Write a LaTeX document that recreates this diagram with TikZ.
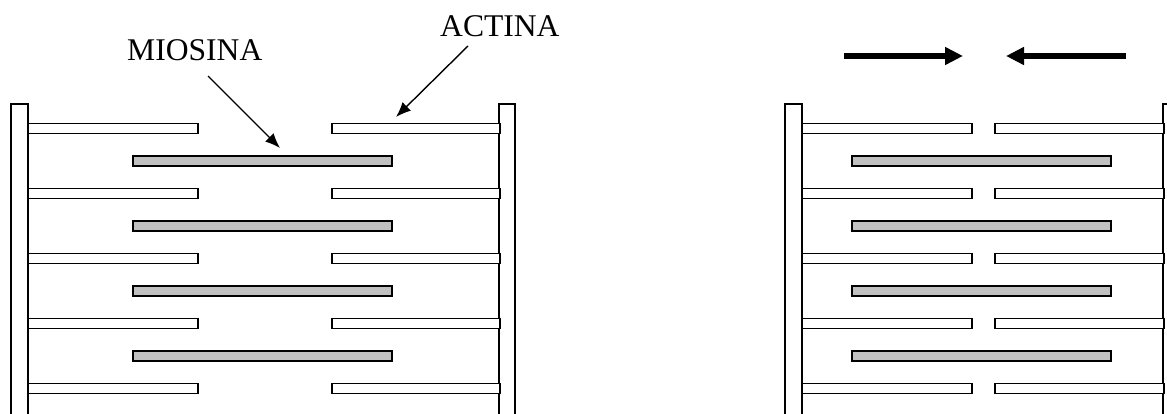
\documentclass[tikz,border=0pt]{standalone}
\usepackage{fontspec}
\setmainfont{Liberation Serif}
\usetikzlibrary{arrows.meta}
\definecolor{myogray}{HTML}{C0C0C0}
\tikzset{
  zline/.style={draw,fill=white,line width=1.1pt},
  actin/.style={draw,fill=white,line width=1.1pt},
  myosin/.style={draw,fill=myogray,line width=1.1pt},
  tag/.style={font=\fontsize{31.6}{38}\selectfont,inner sep=0pt},
  pointer/.style={line width=1.4pt,-{Latex[length=15pt,width=12pt]}},
  push/.style={line width=6pt,-{Triangle[length=18pt,width=17pt]}}
}
\begin{document}
\begin{tikzpicture}[x=1pt,y=-1pt]
\useasboundingbox (0,0) rectangle (1167,414);
\clip (0,0) rectangle (1167,414);
% relaxed sarcomere
\draw[zline] (11,104) rectangle (28,420);
\draw[zline] (499,104) rectangle (515,420);
\foreach \y in {128.5,193.5,258.5,323.5,388.5} {
  \draw[actin] (28,\y-4.75) rectangle (198,\y+4.75);
  \draw[actin] (332,\y-4.75) rectangle (500,\y+4.75);
}
\foreach \y in {161,226,291,356}
  \draw[myosin] (133,\y-5) rectangle (392,\y+5);
\node[tag,anchor=base west] (miosina) at (127,61) {MIOSINA};
\node[tag,anchor=base west] (actina) at (440,37) {ACTINA};
\coordinate (miofrom) at (208,76);
\coordinate (miotip) at (280,148);
\coordinate (actfrom) at (468,46);
\coordinate (acttip) at (396,117);
\draw[pointer] (miofrom) -- (miotip);
\draw[pointer] (actfrom) -- (acttip);
% contracted sarcomere
\draw[zline] (785,104) rectangle (802,420);
\draw[zline] (1163,104) rectangle (1180,420);
\foreach \y in {128.5,193.5,258.5,323.5,388.5} {
  \draw[actin] (802,\y-4.75) rectangle (972,\y+4.75);
  \draw[actin] (995,\y-4.75) rectangle (1164,\y+4.75);
}
\foreach \y in {161,226,291,356}
  \draw[myosin] (852,\y-5) rectangle (1111,\y+5);
\coordinate (pushl) at (844,56);
\coordinate (pushlend) at (963,56);
\coordinate (pushr) at (1126,56);
\coordinate (pushrend) at (1006,56);
\draw[push] (pushl) -- (pushlend);
\draw[push] (pushr) -- (pushrend);
\end{tikzpicture}
\end{document}
